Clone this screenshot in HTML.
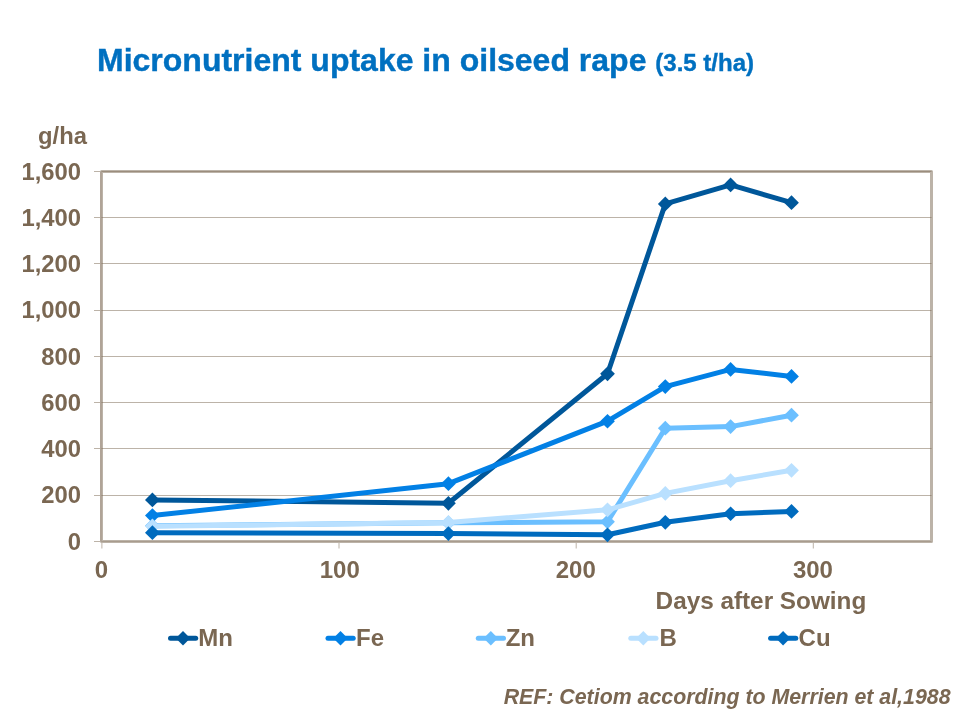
<!DOCTYPE html>
<html lang="en">
<head>
<meta charset="utf-8">
<title>Micronutrient uptake in oilseed rape</title>
<style>
html,body{margin:0;padding:0;background:#fff;}
body{width:960px;height:720px;overflow:hidden;}
svg{display:block;}
text{font-family:"Liberation Sans",Arial,sans-serif;font-weight:bold;}
.t{fill:#7A6752;font-size:24px;}
.y{fill:#7A6752;font-size:23.8px;}
.l{stroke:#7A6752;stroke-opacity:.5;fill:none;}
</style>
</head>
<body>
<svg width="960" height="720" viewBox="0 0 960 720">
<rect width="960" height="720" fill="#ffffff"/>
<text x="97" y="70.8" fill="#0070C0" stroke="#0070C0" stroke-width="0.4" font-size="32px">Micronutrient uptake in oilseed rape <tspan font-size="24px">(3.5 t/ha)</tspan></text>
<rect class="l" x="101.5" y="171.5" width="830.0" height="370.0" stroke-width="3" stroke-linejoin="round"/>
<line class="l" x1="101.5" y1="495.5" x2="931.5" y2="495.5" stroke-width="1"/>
<line class="l" x1="101.5" y1="448.5" x2="931.5" y2="448.5" stroke-width="1"/>
<line class="l" x1="101.5" y1="402.5" x2="931.5" y2="402.5" stroke-width="1"/>
<line class="l" x1="101.5" y1="356.5" x2="931.5" y2="356.5" stroke-width="1"/>
<line class="l" x1="101.5" y1="310.5" x2="931.5" y2="310.5" stroke-width="1"/>
<line class="l" x1="101.5" y1="263.5" x2="931.5" y2="263.5" stroke-width="1"/>
<line class="l" x1="101.5" y1="217.5" x2="931.5" y2="217.5" stroke-width="1"/>
<line class="l" x1="101.5" y1="171.5" x2="931.5" y2="171.5" stroke-width="1"/>
<line class="l" x1="101" y1="171.5" x2="101" y2="541.5" stroke-width="1.2" style="stroke-opacity:.3"/>
<line class="l" x1="101.5" y1="541.5" x2="931.5" y2="541.5" stroke-width="1.2" style="stroke-opacity:.3"/>
<line class="l" x1="94" y1="541.5" x2="100" y2="541.5" stroke-width="1"/>
<line class="l" x1="94" y1="495.5" x2="100" y2="495.5" stroke-width="1"/>
<line class="l" x1="94" y1="448.5" x2="100" y2="448.5" stroke-width="1"/>
<line class="l" x1="94" y1="402.5" x2="100" y2="402.5" stroke-width="1"/>
<line class="l" x1="94" y1="356.5" x2="100" y2="356.5" stroke-width="1"/>
<line class="l" x1="94" y1="310.5" x2="100" y2="310.5" stroke-width="1"/>
<line class="l" x1="94" y1="263.5" x2="100" y2="263.5" stroke-width="1"/>
<line class="l" x1="94" y1="217.5" x2="100" y2="217.5" stroke-width="1"/>
<line class="l" x1="94" y1="171.5" x2="100" y2="171.5" stroke-width="1"/>
<line class="l" x1="101.9" y1="543" x2="101.9" y2="548.5" stroke-width="1"/>
<line class="l" x1="339.0" y1="543" x2="339.0" y2="548.5" stroke-width="1"/>
<line class="l" x1="576.2" y1="543" x2="576.2" y2="548.5" stroke-width="1"/>
<line class="l" x1="813.3" y1="543" x2="813.3" y2="548.5" stroke-width="1"/>
<polyline points="152.4,499.9 448.4,503.3 607.5,373.8 665.3,203.9 730.6,184.9 791.5,202.7" fill="none" stroke="#00579A" stroke-width="5" stroke-linejoin="round" stroke-linecap="round"/>
<path d="M152.4 492.5L159.8 499.9L152.4 507.3L145.0 499.9Z" fill="#00579A"/>
<path d="M448.4 495.9L455.8 503.3L448.4 510.7L441.0 503.3Z" fill="#00579A"/>
<path d="M607.5 366.4L614.9 373.8L607.5 381.2L600.1 373.8Z" fill="#00579A"/>
<path d="M665.3 196.5L672.7 203.9L665.3 211.3L657.9 203.9Z" fill="#00579A"/>
<path d="M730.6 177.5L738.0 184.9L730.6 192.3L723.2 184.9Z" fill="#00579A"/>
<path d="M791.5 195.3L798.9 202.7L791.5 210.1L784.1 202.7Z" fill="#00579A"/>
<polyline points="152.4,515.6 448.4,483.7 607.5,421.2 665.3,386.6 730.6,369.4 791.5,376.4" fill="none" stroke="#0280E5" stroke-width="5" stroke-linejoin="round" stroke-linecap="round"/>
<path d="M152.4 508.2L159.8 515.6L152.4 523.0L145.0 515.6Z" fill="#0280E5"/>
<path d="M448.4 476.3L455.8 483.7L448.4 491.1L441.0 483.7Z" fill="#0280E5"/>
<path d="M607.5 413.9L614.9 421.2L607.5 428.6L600.1 421.2Z" fill="#0280E5"/>
<path d="M665.3 379.2L672.7 386.6L665.3 394.0L657.9 386.6Z" fill="#0280E5"/>
<path d="M730.6 362.1L738.0 369.4L730.6 376.8L723.2 369.4Z" fill="#0280E5"/>
<path d="M791.5 369.0L798.9 376.4L791.5 383.8L784.1 376.4Z" fill="#0280E5"/>
<polyline points="152.4,525.8 448.4,522.8 607.5,521.8 665.3,428.2 730.6,426.6 791.5,415.2" fill="none" stroke="#6BBFFF" stroke-width="5" stroke-linejoin="round" stroke-linecap="round"/>
<path d="M152.4 518.4L159.8 525.8L152.4 533.2L145.0 525.8Z" fill="#6BBFFF"/>
<path d="M448.4 515.4L455.8 522.8L448.4 530.2L441.0 522.8Z" fill="#6BBFFF"/>
<path d="M607.5 514.4L614.9 521.8L607.5 529.2L600.1 521.8Z" fill="#6BBFFF"/>
<path d="M665.3 420.8L672.7 428.2L665.3 435.6L657.9 428.2Z" fill="#6BBFFF"/>
<path d="M730.6 419.2L738.0 426.6L730.6 434.0L723.2 426.6Z" fill="#6BBFFF"/>
<path d="M791.5 407.8L798.9 415.2L791.5 422.6L784.1 415.2Z" fill="#6BBFFF"/>
<polyline points="152.4,526.2 448.4,522.5 607.5,509.8 665.3,493.4 730.6,480.7 791.5,470.3" fill="none" stroke="#B9E0FF" stroke-width="5" stroke-linejoin="round" stroke-linecap="round"/>
<path d="M152.4 518.8L159.8 526.2L152.4 533.6L145.0 526.2Z" fill="#B9E0FF"/>
<path d="M448.4 515.1L455.8 522.5L448.4 529.9L441.0 522.5Z" fill="#B9E0FF"/>
<path d="M607.5 502.4L614.9 509.8L607.5 517.2L600.1 509.8Z" fill="#B9E0FF"/>
<path d="M665.3 486.0L672.7 493.4L665.3 500.8L657.9 493.4Z" fill="#B9E0FF"/>
<path d="M730.6 473.3L738.0 480.7L730.6 488.1L723.2 480.7Z" fill="#B9E0FF"/>
<path d="M791.5 462.9L798.9 470.3L791.5 477.7L784.1 470.3Z" fill="#B9E0FF"/>
<polyline points="152.4,532.7 448.4,533.6 607.5,534.8 665.3,522.3 730.6,513.8 791.5,511.4" fill="none" stroke="#006BBE" stroke-width="5" stroke-linejoin="round" stroke-linecap="round"/>
<path d="M152.4 525.3L159.8 532.7L152.4 540.1L145.0 532.7Z" fill="#006BBE"/>
<path d="M448.4 526.2L455.8 533.6L448.4 541.0L441.0 533.6Z" fill="#006BBE"/>
<path d="M607.5 527.4L614.9 534.8L607.5 542.2L600.1 534.8Z" fill="#006BBE"/>
<path d="M665.3 514.9L672.7 522.3L665.3 529.7L657.9 522.3Z" fill="#006BBE"/>
<path d="M730.6 506.4L738.0 513.8L730.6 521.1L723.2 513.8Z" fill="#006BBE"/>
<path d="M791.5 504.0L798.9 511.4L791.5 518.8L784.1 511.4Z" fill="#006BBE"/>
<text class="y" x="81" y="549.5" text-anchor="end">0</text>
<text class="y" x="81" y="503.2" text-anchor="end">200</text>
<text class="y" x="81" y="457.0" text-anchor="end">400</text>
<text class="y" x="81" y="410.8" text-anchor="end">600</text>
<text class="y" x="81" y="364.5" text-anchor="end">800</text>
<text class="y" x="81" y="318.2" text-anchor="end">1,000</text>
<text class="y" x="81" y="272.0" text-anchor="end">1,200</text>
<text class="y" x="81" y="225.8" text-anchor="end">1,400</text>
<text class="y" x="81" y="179.5" text-anchor="end">1,600</text>
<text class="t" x="101.5" y="578.2" text-anchor="middle">0</text>
<text class="t" x="339.8" y="578.2" text-anchor="middle">100</text>
<text class="t" x="575.8" y="578.2" text-anchor="middle">200</text>
<text class="t" x="812.9" y="578.2" text-anchor="middle">300</text>
<text class="y" x="38" y="143.8">g/ha</text>
<text class="t" x="655.6" y="609.2" style="font-size:24.3px">Days after Sowing</text>
<line x1="170.5" y1="638.2" x2="195.7" y2="638.2" stroke="#00579A" stroke-width="5" stroke-linecap="round"/>
<path d="M183.0 631.0L190.2 638.2L183.0 645.4L175.8 638.2Z" fill="#00579A"/>
<text class="t" x="198.3" y="645.8">Mn</text>
<line x1="328.0" y1="638.2" x2="353.2" y2="638.2" stroke="#0280E5" stroke-width="5" stroke-linecap="round"/>
<path d="M340.5 631.0L347.7 638.2L340.5 645.4L333.3 638.2Z" fill="#0280E5"/>
<text class="t" x="356.1" y="645.8">Fe</text>
<line x1="478.3" y1="638.2" x2="503.5" y2="638.2" stroke="#6BBFFF" stroke-width="5" stroke-linecap="round"/>
<path d="M490.8 631.0L498.0 638.2L490.8 645.4L483.6 638.2Z" fill="#6BBFFF"/>
<text class="t" x="505.7" y="645.8">Zn</text>
<line x1="630.8" y1="638.2" x2="656.0" y2="638.2" stroke="#B9E0FF" stroke-width="5" stroke-linecap="round"/>
<path d="M643.3 631.0L650.5 638.2L643.3 645.4L636.1 638.2Z" fill="#B9E0FF"/>
<text class="t" x="659.6" y="645.8">B</text>
<line x1="770.6" y1="638.2" x2="795.8" y2="638.2" stroke="#006BBE" stroke-width="5" stroke-linecap="round"/>
<path d="M783.1 631.0L790.3 638.2L783.1 645.4L775.9 638.2Z" fill="#006BBE"/>
<text class="t" x="798.6" y="645.8">Cu</text>
<text x="950.5" y="703.6" text-anchor="end" fill="#7A6752" font-size="21.33px" font-style="italic">REF: Cetiom according to Merrien et al,1988</text>
</svg>
</body>
</html>
